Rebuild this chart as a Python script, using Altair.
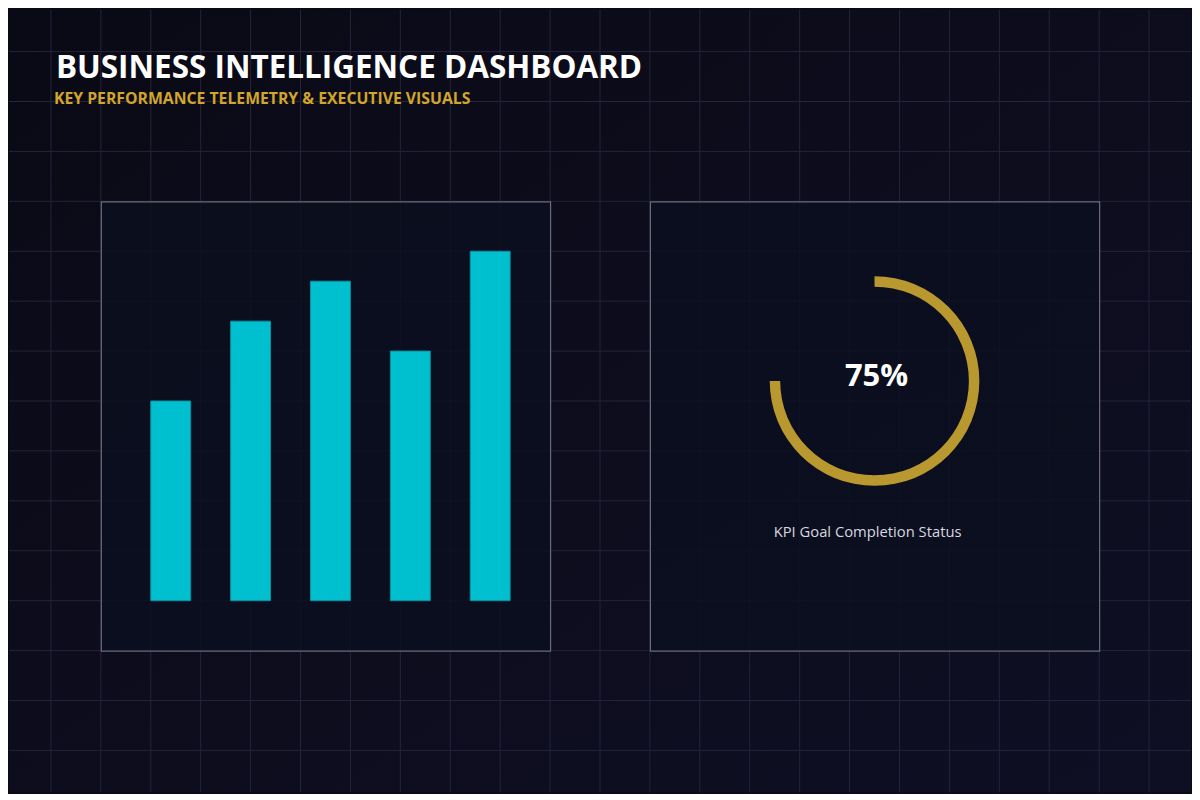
import math
import altair as alt
import pandas as pd

# ---------------- data ----------------
categories = ["Q1", "Q2", "Q3", "Q4", "Q5"]
bar_values = [40, 56, 64, 50, 70]
kpi_value = [75]
kpi_label = ["75%"]
title_text = ["BUSINESS INTELLIGENCE DASHBOARD"]
subtitle_text = ["KEY PERFORMANCE TELEMETRY & EXECUTIVE VISUALS"]
caption_text = ["KPI Goal Completion Status"]
grid_x = [50 * i for i in range(1, 24)]
grid_y = [50 * i for i in range(1, 16)]

# layout (reference pixel space; page margin of 8px is subtracted by the scales)
W, H = 1184, 784
OFF = 8
XS = alt.Scale(domain=[OFF, OFF + W], range=[0, W])
YS = alt.Scale(domain=[OFF, OFF + H], range=[0, H])

BG_TOP = "#0A0A16"
BG_BOT = "#0F0F24"
GRID = "#24243A"
PANEL_FILL = "#0A0F1E"
PANEL_STROKE = "#6A6A78"
BAR_COLOR = "#00BFCE"
GOLD = "#B8982F"
SUB_GOLD = "#D2A52B"
FONT = "Open Sans"

# background gradient
bg_df = pd.DataFrame({"x": [OFF], "x2": [OFF + W], "y": [OFF], "y2": [OFF + H]})
bg = alt.Chart(bg_df).mark_rect(
    color=alt.LinearGradient(
        gradient="linear", x1=0, y1=0, x2=1, y2=1,
        stops=[alt.GradientStop(color=BG_TOP, offset=0),
               alt.GradientStop(color=BG_BOT, offset=1)],
    )
).encode(
    x=alt.X("x:Q", scale=XS, axis=None), x2="x2:Q",
    y=alt.Y("y:Q", scale=YS, axis=None), y2="y2:Q",
)

# grid lines
gx_df = pd.DataFrame({"x": grid_x, "y": OFF, "y2": OFF + H})
gy_df = pd.DataFrame({"y": grid_y, "x": OFF, "x2": OFF + W})
grid_v = alt.Chart(gx_df).mark_rule(color=GRID, strokeWidth=1).encode(
    x=alt.X("x:Q", scale=XS, axis=None),
    y=alt.Y("y:Q", scale=YS, axis=None), y2="y2:Q",
)
grid_h = alt.Chart(gy_df).mark_rule(color=GRID, strokeWidth=1).encode(
    y=alt.Y("y:Q", scale=YS, axis=None),
    x=alt.X("x:Q", scale=XS, axis=None), x2="x2:Q",
)

# panels
panel_df = pd.DataFrame({
    "x": [100.5, 650.5], "x2": [550.5, 1100.5],
    "y": [200.5, 200.5], "y2": [650.5, 650.5],
})
panels = alt.Chart(panel_df).mark_rect(
    fill=PANEL_FILL, stroke=PANEL_STROKE, strokeWidth=1.2, fillOpacity=0.85
).encode(
    x=alt.X("x:Q", scale=XS, axis=None), x2="x2:Q",
    y=alt.Y("y:Q", scale=YS, axis=None), y2="y2:Q",
)

# bars (own band / linear scales placed inside the left panel)
bar_df = pd.DataFrame({"cat": categories, "value": bar_values})
bars = alt.Chart(bar_df).mark_bar(
    color=BAR_COLOR, stroke="#0892A0", strokeWidth=1
).encode(
    x=alt.X("cat:N", sort=categories, axis=None,
            scale=alt.Scale(range=[150 - OFF, 510 - OFF], paddingInner=0.5, paddingOuter=0)),
    y=alt.Y("value:Q", axis=None,
            scale=alt.Scale(domain=[0, 100], range=[600 - OFF, 100 - OFF])),
)

# gauge arc
arc_df = pd.DataFrame({"value": kpi_value})
gauge = alt.Chart(arc_df).mark_arc(
    x=875 - OFF, y=380 - OFF, radius=105, radius2=94.5, color=GOLD
).encode(
    theta=alt.Theta("value:Q", scale=alt.Scale(domain=[0, 100], range=[0, 2 * math.pi]),
                    stack=True),
)

# texts
kpi_df = pd.DataFrame({"t": kpi_label, "x": [877], "y": [376]})
kpi_txt = alt.Chart(kpi_df).mark_text(
    font=FONT, fontSize=31, fontWeight="bold", color="#FFFFFF",
    align="center", baseline="middle"
).encode(
    x=alt.X("x:Q", scale=XS, axis=None), y=alt.Y("y:Q", scale=YS, axis=None), text="t:N"
)

cap_df = pd.DataFrame({"t": caption_text, "x": [868], "y": [532]})
cap_txt = alt.Chart(cap_df).mark_text(
    font=FONT, fontSize=14.8, color="#D8D8E0", align="center", baseline="middle"
).encode(
    x=alt.X("x:Q", scale=XS, axis=None), y=alt.Y("y:Q", scale=YS, axis=None), text="t:N"
)

title_df = pd.DataFrame({"t": title_text, "x": [55], "y": [76]})
title_txt = alt.Chart(title_df).mark_text(
    font=FONT, fontSize=31.5, fontWeight="bold", color="#FFFFFF",
    align="left", baseline="alphabetic"
).encode(
    x=alt.X("x:Q", scale=XS, axis=None), y=alt.Y("y:Q", scale=YS, axis=None), text="t:N"
)

sub_df = pd.DataFrame({"t": subtitle_text, "x": [53], "y": [102.5]})
sub_txt = alt.Chart(sub_df).mark_text(
    font=FONT, fontSize=15.8, fontWeight="bold", color=SUB_GOLD,
    align="left", baseline="alphabetic"
).encode(
    x=alt.X("x:Q", scale=XS, axis=None), y=alt.Y("y:Q", scale=YS, axis=None), text="t:N"
)

chart = alt.layer(
    bg, grid_v, grid_h, panels, bars, gauge, kpi_txt, cap_txt, title_txt, sub_txt
).resolve_scale(
    x="independent", y="independent"
).properties(
    width=W, height=H, padding=0, background=BG_TOP
).configure_view(stroke=None)

chart.save("out.html", embed_options={"renderer": "svg", "actions": False})
